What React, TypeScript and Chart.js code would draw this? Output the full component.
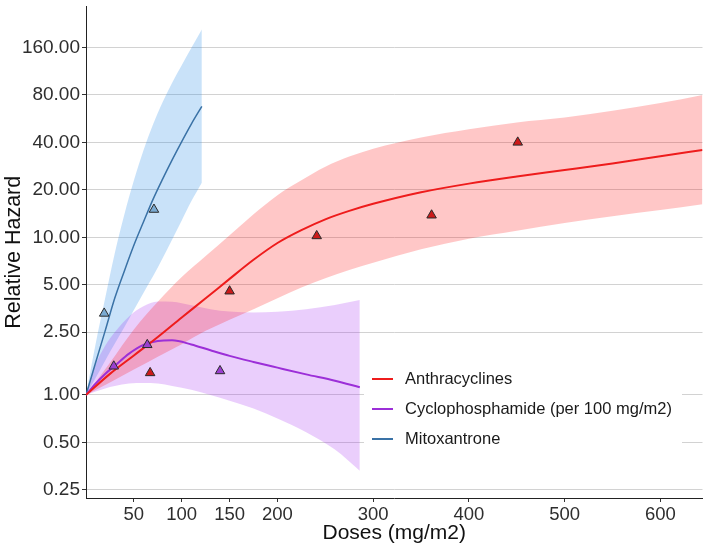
import React, { useEffect, useRef } from "react";
import { Chart, registerables } from "chart.js";

Chart.register(...registerables);

// ---- data ----
const yTickValues = [0.25, 0.5, 1, 2.5, 5, 10, 20, 40, 80, 160];
const xTickValues = [50, 100, 150, 200, 300, 400, 500, 600];
const seriesNames = ["Anthracyclines", "Cyclophosphamide (per 100 mg/m2)", "Mitoxantrone"];

const anthDose = [0, 25, 50, 75, 100, 125, 150, 175, 200, 225, 250, 275, 300, 350, 400, 450, 500, 550, 600, 644];
const anthHR = [1, 1.36, 1.78, 2.33, 3.1, 4.1, 5.45, 7.2, 9.2, 11.1, 13.0, 14.7, 16.3, 19.3, 21.9, 24.3, 26.7, 29.4, 32.7, 35.8];
const anthUpper = [1, 1.6, 2.6, 3.9, 5.6, 7.6, 10.3, 14, 18.5, 23, 28, 32.5, 36.5, 43, 48.5, 53.5, 57.5, 63.5, 71, 80];
const anthLower = [1, 1.2, 1.45, 1.75, 2.1, 2.55, 3.0, 3.5, 4.1, 4.8, 5.5, 6.2, 6.9, 8.4, 9.8, 11.0, 12.3, 13.6, 14.9, 16.2];

const cycloDose = [0, 10, 20, 30, 45, 60, 75, 90, 110, 130, 150, 175, 200, 230, 260, 286];
const cycloHR = [1, 1.18, 1.36, 1.53, 1.83, 2.08, 2.2, 2.22, 2.09, 1.92, 1.77, 1.62, 1.49, 1.35, 1.23, 1.12];
const cycloUpper = [1, 1.55, 2.05, 2.5, 3.15, 3.65, 3.92, 3.9, 3.7, 3.5, 3.38, 3.33, 3.37, 3.5, 3.72, 4.0];
const cycloLower = [1, 1.05, 1.1, 1.14, 1.18, 1.19, 1.18, 1.14, 1.08, 1.0, 0.92, 0.82, 0.71, 0.58, 0.45, 0.33];

const mitoDose = [0, 10, 20, 30, 40, 50, 60, 70, 80, 90, 100, 110, 121];
const mitoHR = [1, 1.6, 2.55, 4.1, 6.1, 8.9, 12.5, 17.4, 23.4, 31, 40.5, 52.3, 67.7];
const mitoUpper = [1, 2.1, 4.1, 7.9, 13.9, 22.9, 35.5, 52, 72, 95.7, 123.6, 158.7, 208];
const mitoLower = [1, 1.28, 1.65, 2.11, 2.69, 3.46, 4.44, 5.66, 7.36, 9.7, 12.8, 16.9, 22.2];

const anthPtDose = [67, 150, 241, 361, 451];
const anthPtHR = [1.38, 4.55, 10.2, 13.8, 40];
const cycloPtDose = [29, 64, 140];
const cycloPtHR = [1.52, 2.08, 1.42];
const mitoPtDose = [19, 71];
const mitoPtHR = [3.29, 15.0];

// ---- styles ----
const lineColors = ["#ee1c1c", "#9c2fd8", "#3a72a6"];
const bandColors = ["rgba(255,0,0,0.22)", "rgba(160,32,240,0.22)", "rgba(40,140,230,0.25)"];
const pointFills = ["#cc1a1a", "#9a3fd0", "#7aaad2"];
const FONT = "'Liberation Sans', Arial, Helvetica, sans-serif";

const mk = (xs: number[], ys: number[]) => xs.map((x, i) => ({ x, y: ys[i] }));

const band = (xs: number[], up: number[], lo: number[], color: string) => [
  {
    data: mk(xs, up),
    borderWidth: 0,
    pointRadius: 0,
    fill: "+1",
    backgroundColor: color,
    borderColor: "rgba(0,0,0,0)",
    cubicInterpolationMode: "monotone",
    order: 5,
  },
  {
    data: mk(xs, lo),
    borderWidth: 0,
    pointRadius: 0,
    fill: false,
    borderColor: "rgba(0,0,0,0)",
    cubicInterpolationMode: "monotone",
    order: 5,
  },
];

const curve = (xs: number[], ys: number[], color: string, w: number) => ({
  data: mk(xs, ys),
  borderColor: color,
  borderWidth: w,
  pointRadius: 0,
  fill: false,
  cubicInterpolationMode: "monotone",
  order: 2,
});

const pts = (xs: number[], ys: number[], fillc: string) => ({
  data: mk(xs, ys),
  showLine: false,
  pointStyle: "triangle",
  pointRadius: 5.5,
  pointBackgroundColor: fillc,
  pointBorderColor: "#2a2a2a",
  pointBorderWidth: 1,
  fill: false,
  order: 1,
});

const legendPlugin = {
  id: "insideLegend",
  afterDraw(chart: any) {
    const ctx = chart.ctx;
    ctx.save();
    ctx.fillStyle = "#ffffff";
    ctx.fillRect(364, 362, 318, 94);
    ctx.font = `16.5px ${FONT}`;
    ctx.textBaseline = "middle";
    ctx.textAlign = "left";
    seriesNames.forEach((name, i) => {
      const y = 379 + i * 30;
      ctx.strokeStyle = lineColors[i];
      ctx.lineWidth = 2;
      ctx.beginPath();
      ctx.moveTo(372, y);
      ctx.lineTo(393, y);
      ctx.stroke();
      ctx.fillStyle = "#1a1a1a";
      ctx.fillText(name, 405, y);
    });
    ctx.restore();
  },
};

export default function App() {
  const ref = useRef<HTMLCanvasElement | null>(null);

  useEffect(() => {
    if (!ref.current) return;
    const chart = new Chart(ref.current, {
      type: "line",
      data: {
        datasets: [
          ...band(anthDose, anthUpper, anthLower, bandColors[0]),
          ...band(cycloDose, cycloUpper, cycloLower, bandColors[1]),
          ...band(mitoDose, mitoUpper, mitoLower, bandColors[2]),
          curve(anthDose, anthHR, lineColors[0], 2),
          curve(cycloDose, cycloHR, lineColors[1], 2),
          curve(mitoDose, mitoHR, lineColors[2], 1.5),
          pts(anthPtDose, anthPtHR, pointFills[0]),
          pts(cycloPtDose, cycloPtHR, pointFills[1]),
          pts(mitoPtDose, mitoPtHR, pointFills[2]),
        ] as any,
      },
      options: {
        animation: false,
        responsive: false,
        devicePixelRatio: 1,
        layout: { padding: { top: 2, right: 3, left: 0, bottom: 0 } },
        plugins: {
          legend: { display: false },
          tooltip: { enabled: false },
          filler: { drawTime: "beforeDatasetsDraw" } as any,
        },
        scales: {
          x: {
            type: "linear",
            min: 0,
            max: 644,
            afterBuildTicks: (s: any) => {
              s.ticks = xTickValues.map((v) => ({ value: v }));
            },
            afterFit: (s: any) => {
              s.height = 48;
              s.paddingLeft = 0;
              s.paddingRight = 0;
            },
            ticks: {
              autoSkip: false,
              maxRotation: 0,
              padding: 2,
              color: "#2e2e2e",
              font: { family: FONT, size: 18.5 },
              callback: (v: any) => String(v),
            },
            grid: {
              drawOnChartArea: false,
              drawTicks: true,
              tickLength: 4,
              tickColor: "#333333",
            },
            border: { display: true, color: "#222222", width: 1 },
            title: {
              display: true,
              text: "Doses (mg/m2)",
              color: "#111111",
              font: { family: FONT, size: 21 },
              padding: { top: 0, bottom: 0 },
            },
          },
          y: {
            type: "logarithmic",
            min: 0.222,
            max: 291,
            afterBuildTicks: (s: any) => {
              s.ticks = yTickValues.map((v) => ({ value: v }));
            },
            afterFit: (s: any) => {
              s.width = 86;
              s.paddingTop = 0;
              s.paddingBottom = 0;
            },
            ticks: {
              autoSkip: false,
              padding: 2,
              color: "#2e2e2e",
              font: { family: FONT, size: 19 },
              callback: (v: any) => Number(v).toFixed(2),
            },
            grid: {
              color: "#d2d2d2",
              lineWidth: 1,
              drawTicks: true,
              tickLength: 4,
              tickColor: "#333333",
            },
            border: { display: true, color: "#222222", width: 1 },
            title: {
              display: true,
              text: "Relative Hazard",
              color: "#111111",
              font: { family: FONT, size: 21.5 },
              padding: { top: 1, bottom: 0 },
            },
          },
        },
      } as any,
      plugins: [legendPlugin],
    });
    return () => chart.destroy();
  }, []);

  return (
    <div style={{ position: "absolute", left: 0, top: 0, width: 709, height: 546, background: "#fff" }}>
      <canvas ref={ref} width={709} height={546} style={{ display: "block" }} />
    </div>
  );
}
